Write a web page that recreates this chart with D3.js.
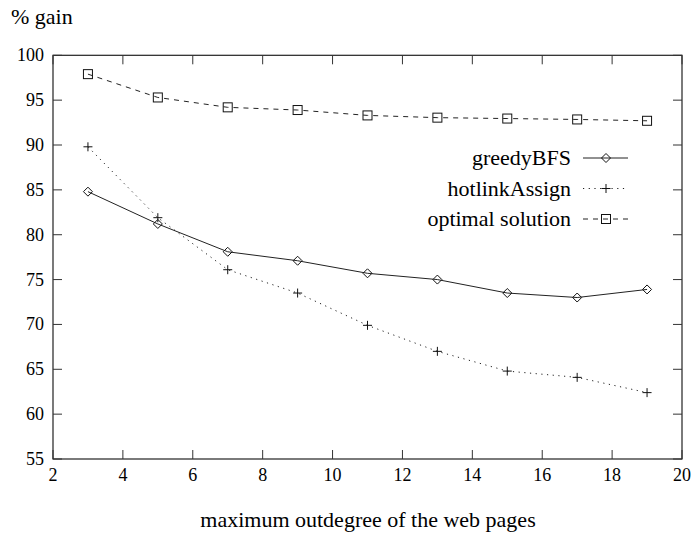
<!DOCTYPE html>
<html><head><meta charset="utf-8">
<script src="https://cdn.jsdelivr.net/npm/d3@7"></script>
</head><body style="margin:0"><svg id="c" width="692" height="533"></svg>
<script>
const xValues = [3,5,7,9,11,13,15,17,19];
const greedyBFS = [84.8,81.2,78.1,77.1,75.7,75.0,73.5,73.0,73.9];
const hotlinkAssign = [89.8,81.9,76.1,73.5,69.9,67.0,64.8,64.1,62.4];
const optimalSolution = [97.9,95.3,94.2,93.9,93.3,93.05,92.95,92.85,92.7];
const xTicks = [2,4,6,8,10,12,14,16,18,20];
const yTicks = [55,60,65,70,75,80,85,90,95,100];
const seriesNames = ["greedyBFS","hotlinkAssign","optimal solution"];

const svg = d3.select("#c");
const L=53,R=682,T=55.3,B=459;
const x = d3.scaleLinear().domain([2,20]).range([L,R]);
const y = d3.scaleLinear().domain([55,100]).range([B,T]);
const tickFs = 18, labFs = 22;

svg.append("rect").attr("x",L).attr("y",T).attr("width",R-L).attr("height",B-T)
  .attr("fill","none").attr("stroke","#222").attr("stroke-width",1.2);

const tl=9;
const g=svg.append("g").attr("stroke","#333").attr("stroke-width",1);
xTicks.forEach(t=>{
  g.append("line").attr("x1",x(t)).attr("x2",x(t)).attr("y1",B).attr("y2",B-tl);
  g.append("line").attr("x1",x(t)).attr("x2",x(t)).attr("y1",T).attr("y2",T+tl);
});
yTicks.forEach(t=>{
  g.append("line").attr("x1",L).attr("x2",L+tl).attr("y1",y(t)).attr("y2",y(t));
  g.append("line").attr("x1",R).attr("x2",R-tl).attr("y1",y(t)).attr("y2",y(t));
});
function txt(fs){ return svg.append("text").style("font-family","Liberation Serif").attr("font-size",fs); }
xTicks.forEach(d=>txt(tickFs).attr("x",x(d)).attr("y",481).attr("text-anchor","middle").text(d));
yTicks.forEach(d=>txt(tickFs).attr("x",44).attr("y",y(d)+6).attr("text-anchor","end").text(d));

txt(labFs).attr("x",11).attr("y",24).text("% gain");
txt(labFs).attr("x",368).attr("y",527).attr("text-anchor","middle").text("maximum outdegree of the web pages");

const styles=[
  {data:greedyBFS,dash:null,marker:"diamond"},
  {data:hotlinkAssign,dash:"1.2,4.5",marker:"plus"},
  {data:optimalSolution,dash:"5,5",marker:"square"}
];
function marker(sel,type,cx,cy){
  const s=4.5;
  if(type==="diamond") sel.append("path").attr("d",`M${cx},${cy-s}L${cx+s},${cy}L${cx},${cy+s}L${cx-s},${cy}Z`);
  else if(type==="square") sel.append("rect").attr("x",cx-s).attr("y",cy-s).attr("width",2*s).attr("height",2*s);
  else sel.append("path").attr("d",`M${cx-s},${cy}H${cx+s}M${cx},${cy-s}V${cy+s}`);
}
const line=d3.line().x((d,i)=>x(xValues[i])).y(d=>y(d));
styles.forEach((st,k)=>{
  const p=svg.append("path").datum(st.data).attr("d",line).attr("fill","none")
    .attr("stroke","#222").attr("stroke-width",1);
  if(st.dash) p.attr("stroke-dasharray",st.dash);
  const mg=svg.append("g").attr("fill","none").attr("stroke","#111").attr("stroke-width",1);
  st.data.forEach((v,i)=>marker(mg,st.marker,x(xValues[i]),y(v)));
  const ly=158+k*30.5;
  txt(labFs).attr("x",571).attr("y",ly+7).attr("text-anchor","end").text(seriesNames[k]);
  const lp=svg.append("line").attr("x1",583).attr("x2",628).attr("y1",ly).attr("y2",ly).attr("stroke","#222").attr("stroke-width",1);
  if(st.dash) lp.attr("stroke-dasharray",st.dash);
  const lg=svg.append("g").attr("fill","none").attr("stroke","#111").attr("stroke-width",1);
  marker(lg,st.marker,606,ly);
});
</script></body></html>
